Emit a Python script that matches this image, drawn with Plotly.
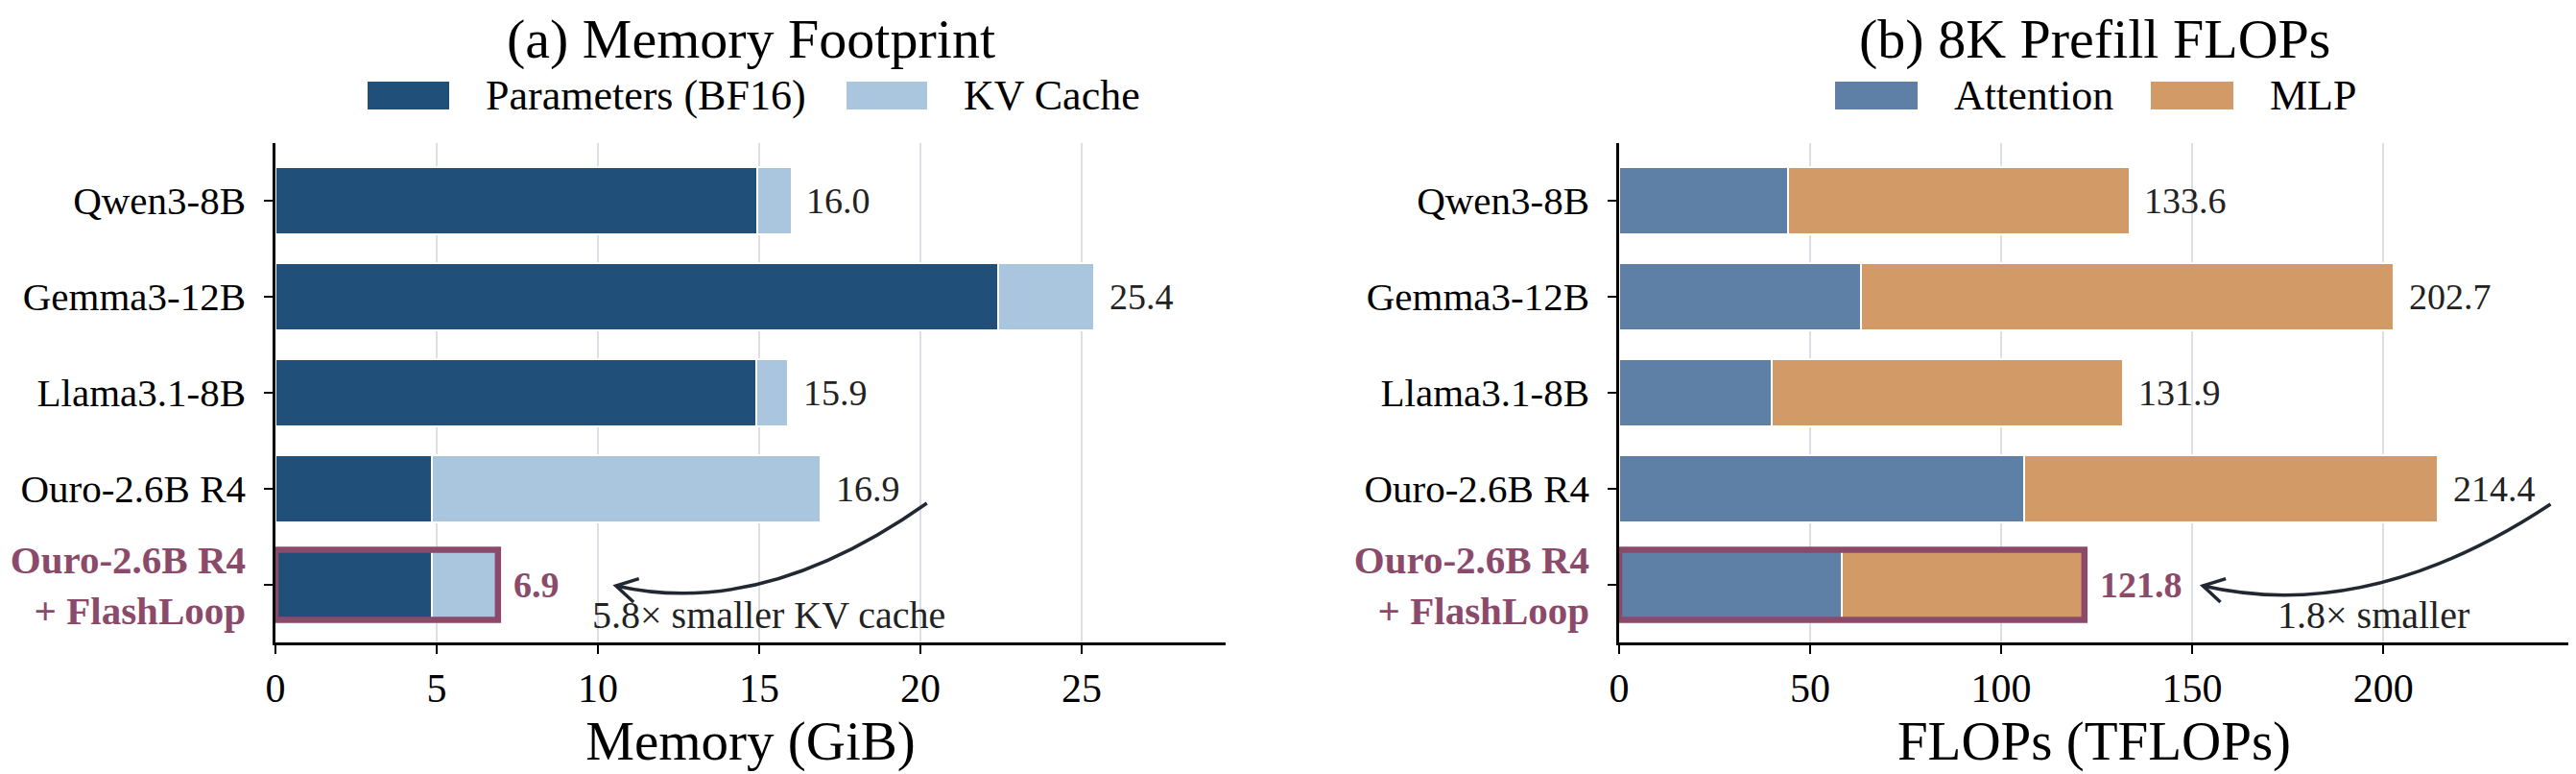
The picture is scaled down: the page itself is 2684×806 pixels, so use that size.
import math
import plotly.graph_objects as go

# ---------------- data ----------------
models = ["Qwen3-8B", "Gemma3-12B", "Llama3.1-8B", "Ouro-2.6B R4", "Ouro-2.6B R4 + FlashLoop"]
params_gib = [14.95, 22.4, 14.9, 4.84, 4.84]
kv_cache_gib = [1.05, 3.0, 1.0, 12.06, 2.06]
attention_tflops = [44.2, 63.4, 39.9, 106.1, 58.3]
mlp_tflops = [89.4, 139.3, 92.0, 108.3, 63.5]
mem_ticks = [0, 5, 10, 15, 20, 25]
flop_ticks = [0, 50, 100, 150, 200]
mem_note = "5.8× smaller KV cache"
flop_note = "1.8× smaller"

# ---------------- style ----------------
FONT = "Liberation Serif, Times New Roman, serif"
C_PARAM = "#204f79"
C_KV = "#a9c6de"
C_ATTN = "#5e80a6"
C_MLP = "#d29a66"
C_HL = "#8c4a6b"
C_TXT = "#222222"
C_ARROW = "#222831"
GRID = "#dcdfe4"

OFF = 8  # page body margin in the browser
W, H = 2684 - OFF, 806 - OFF
ML, MR, MT, MB = 287 - OFF, 7, 149 - OFF, 137
PW, PH = W - ML - MR, H - MT - MB
SUB_W = 990
dom1 = [0, SUB_W / PW]
dom2 = [(PW - SUB_W) / PW, 1]

# convert page pixel positions to paper fractions
def pxx(px):
    return (px - OFF - ML) / PW

def pxy(py):
    return (H - MB - (py - OFF)) / PH

ypos = list(range(len(models)))
mem_tot = [a + b for a, b in zip(params_gib, kv_cache_gib)]
flop_tot = [a + b for a, b in zip(attention_tflops, mlp_tflops)]
mem_max = max(mem_tot) * 1.16
flop_max = max(flop_tot) * 1.16
YR = [len(models) - 0.4, -0.6]

hl = len(models) - 1
ticktext = []
for i, m in enumerate(models):
    if i == hl:
        a, b = "Ouro-2.6B R4", "+ FlashLoop"
        ticktext.append(f"<b><span style='color:{C_HL}'>{a}</span></b><br>"
                        f"<b><span style='color:{C_HL}'>{b}</span></b>")
    else:
        ticktext.append(m)

fig = go.Figure()

def add_bars(xa, ya, s1, s2, n1, n2, c1, c2):
    for vals, name, col in ((s1, n1, c1), (s2, n2, c2)):
        fig.add_trace(go.Bar(
            x=vals, y=ypos, orientation="h", name=name,
            marker=dict(color=col, line=dict(color="white", width=2)),
            width=0.7, xaxis=xa, yaxis=ya, showlegend=False,
        ))

add_bars("x", "y", params_gib, kv_cache_gib, "Parameters (BF16)", "KV Cache", C_PARAM, C_KV)
add_bars("x2", "y2", attention_tflops, mlp_tflops, "Attention", "MLP", C_ATTN, C_MLP)

annotations = []
shapes = []

# value labels
for xr, yr, tots in (("x", "y", mem_tot), ("x2", "y2", flop_tot)):
    for i, t in enumerate(tots):
        txt = f"{t:.1f}"
        if i == hl:
            txt = f"<b>{txt}</b>"
            col = C_HL
        else:
            col = C_TXT
        annotations.append(dict(
            x=t + 0.016 * max(tots), y=i, xref=xr, yref=yr, text=txt, showarrow=False,
            xanchor="left", yanchor="middle", font=dict(family=FONT, size=38, color=col)))
    # highlight box
    shapes.append(dict(type="rect", xref=xr, yref=yr, x0=0, x1=tots[hl],
                       y0=hl - 0.365, y1=hl + 0.365,
                       line=dict(color=C_HL, width=6.5), fillcolor="rgba(0,0,0,0)", layer="above"))

# curved arrows: start near the baseline label, bend down to the highlighted label
def curved_arrow(xr, yr, span, p0, c, p2, note, tpos):
    sx = SUB_W / span
    sy = PH / (YR[0] - YR[1])
    shapes.append(dict(type="path", xref=xr, yref=yr,
                       path=f"M {p0[0]},{p0[1]} Q {c[0]},{c[1]} {p2[0]},{p2[1]}",
                       line=dict(color=C_ARROW, width=3.5), layer="above"))
    dx = (p2[0] - c[0]) * sx
    dy = (p2[1] - c[1]) * sy
    n = math.hypot(dx, dy)
    dx, dy = dx / n, dy / n
    L = 25
    pts = []
    for ang in (math.radians(30), math.radians(-30)):
        rx = dx * math.cos(ang) - dy * math.sin(ang)
        ry = dx * math.sin(ang) + dy * math.cos(ang)
        pts.append((p2[0] - L * rx / sx, p2[1] - L * ry / sy))
    shapes.append(dict(type="path", xref=xr, yref=yr,
                       path=f"M {pts[0][0]},{pts[0][1]} L {p2[0]},{p2[1]} L {pts[1][0]},{pts[1][1]}",
                       line=dict(color=C_ARROW, width=3.5), layer="above"))
    annotations.append(dict(x=tpos[0], y=tpos[1], xref=xr, yref=yr, text=note, showarrow=False,
                            xanchor="center", yanchor="middle",
                            font=dict(family=FONT, size=40, color=C_TXT)))

curved_arrow("x", "y", mem_max, (20.2, 3.15), (15.1, 4.36), (10.56, 4.01), mem_note, (15.3, 4.31))
curved_arrow("x2", "y2", flop_max, (243.8, 3.16), (196.4, 4.41), (152.8, 4.01), flop_note, (197.4, 4.31))

# titles
for dom, title in ((dom1, "(a) Memory Footprint"), (dom2, "(b) 8K Prefill FLOPs")):
    annotations.append(dict(x=(dom[0] + dom[1]) / 2, y=pxy(40), xref="paper", yref="paper",
                            text=title, showarrow=False, xanchor="center", yanchor="middle",
                            font=dict(family=FONT, size=58, color="black")))

# manual legends (wide patches)
legend_items = [
    (383, 468, "Parameters (BF16)", C_PARAM),
    (882, 966, "KV Cache", C_KV),
    (1912, 1998, "Attention", C_ATTN),
    (2241, 2327, "MLP", C_MLP),
]
for x0, x1, label, col in legend_items:
    shapes.append(dict(type="rect", xref="paper", yref="paper", x0=pxx(x0), x1=pxx(x1),
                       y0=pxy(114), y1=pxy(85), fillcolor=col, line=dict(width=0)))
    annotations.append(dict(x=pxx(x1 + 36), y=pxy(100), xref="paper", yref="paper", text=label,
                            showarrow=False, xanchor="left", yanchor="middle",
                            font=dict(family=FONT, size=44, color="black")))

xcommon = dict(showline=True, linecolor="black", linewidth=2.5, ticks="outside", ticklen=9,
               tickwidth=2, tickcolor="black", showgrid=True, gridcolor=GRID, gridwidth=2,
               zeroline=False, tickfont=dict(family=FONT, size=42, color="black"))
ycommon = dict(showline=True, linecolor="black", linewidth=2.5, ticks="outside", ticklen=9,
               tickwidth=2, tickcolor="black", showgrid=False, zeroline=False,
               tickvals=ypos, ticktext=ticktext, range=YR, ticklabelstandoff=11,
               tickfont=dict(family=FONT, size=41, color="black"))

fig.update_layout(
    width=W, height=H, barmode="stack", bargap=0.3,
    margin=dict(l=ML, r=MR, t=MT, b=MB, autoexpand=False),
    paper_bgcolor="white", plot_bgcolor="white",
    font=dict(family=FONT, color="black"),
    xaxis=dict(domain=dom1, anchor="y", range=[0, mem_max], tickvals=mem_ticks,
               title=dict(text="Memory (GiB)", font=dict(family=FONT, size=57), standoff=0),
               **xcommon),
    yaxis=dict(domain=[0, 1], anchor="x", **ycommon),
    xaxis2=dict(domain=dom2, anchor="y2", range=[0, flop_max], tickvals=flop_ticks,
                title=dict(text="FLOPs (TFLOPs)", font=dict(family=FONT, size=57), standoff=0),
                **xcommon),
    yaxis2=dict(domain=[0, 1], anchor="x2", **ycommon),
    annotations=annotations,
    shapes=shapes,
    showlegend=False,
)

fig.write_html("out.html")
